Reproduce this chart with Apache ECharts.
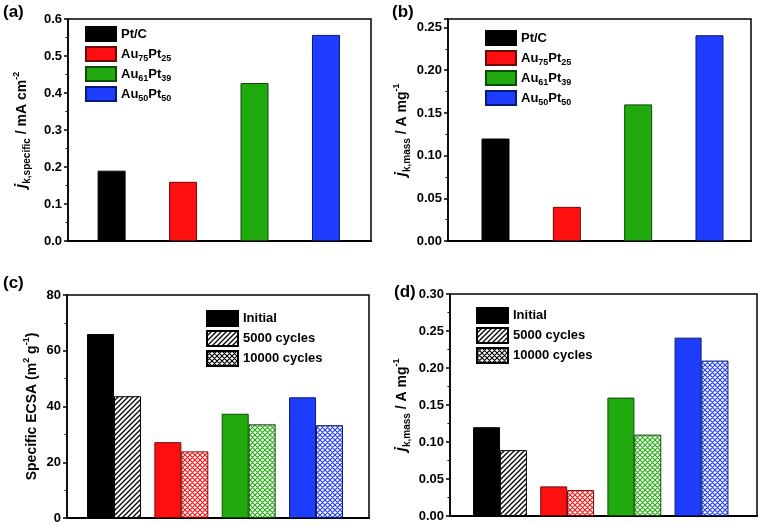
<!DOCTYPE html>
<html><head><meta charset="utf-8">
<script src="https://cdn.jsdelivr.net/npm/echarts@6/dist/echarts.min.js"></script>
<style>html,body{margin:0;padding:0;background:#fff}#c{width:760px;height:525px}</style>
</head><body><div id="c"></div>
<script>
// ---------- data ----------
const categories = ['Pt/C', 'Au75Pt25', 'Au61Pt39', 'Au50Pt50'];
const specificActivity = [0.19, 0.16, 0.427, 0.557];   // (a) mA cm-2
const massActivity = [0.12, 0.04, 0.16, 0.241];         // (b) A mg-1
const ecsaInitial = [66.0, 27.2, 37.4, 43.3];           // (c) m2 g-1
const ecsaCycled = [43.7, 23.9, 33.6, 33.3];
const massInitial = [0.12, 0.04, 0.16, 0.241];          // (d) A mg-1
const massCycled = [0.089, 0.035, 0.11, 0.21];
const cycledState = ['5000 cycles', '10000 cycles', '10000 cycles', '10000 cycles'];
const stateNames = ['Initial', '5000 cycles', '10000 cycles'];

// ---------- styles ----------
const FONT = 'Liberation Sans';
const fills = ['#000000', '#ff1010', '#20aa0e', '#1f3dff'];
const edges = ['#000000', '#6a0a0a', '#0f4a08', '#0a1a70'];

function pattern(color, cross) {
  const s = 5;
  const c = document.createElement('canvas');
  c.width = s; c.height = s;
  const g = c.getContext('2d');
  g.fillStyle = '#fff'; g.fillRect(0, 0, s, s);
  g.strokeStyle = color; g.lineWidth = cross ? 1.1 : 1.3;
  g.beginPath();
  g.moveTo(-1, s + 1); g.lineTo(s + 1, -1);
  g.moveTo(-1, 1); g.lineTo(1, -1);
  g.moveTo(s - 1, s + 1); g.lineTo(s + 1, s - 1);
  if (cross) {
    g.moveTo(-1, -1); g.lineTo(s + 1, s + 1);
    g.moveTo(s - 1, -1); g.lineTo(s + 1, 1);
    g.moveTo(-1, s - 1); g.lineTo(1, s + 1);
  }
  g.stroke();
  return { image: c, repeat: 'repeat' };
}
function stateFill(state, color) {
  if (state === 'Initial') return color;
  return pattern(color, state === '10000 cycles');
}

const grids = [
  { left: 68, top: 19, width: 303, height: 222 },
  { left: 448, top: 19, width: 303, height: 222 },
  { left: 67, top: 295, width: 302, height: 223 },
  { left: 450, top: 294, width: 307, height: 222 }
].map(g => Object.assign({ show: true, borderColor: '#000', borderWidth: 1.5, backgroundColor: 'transparent' }, g));
grids.push({ left: 0, top: 0, width: 1, height: 1, show: false });

const xRanges = [[0.39, 4.63], [0.334, 4.582], [0.302, 4.787], [0.256, 4.826]];
const xAxes = xRanges.map((r, i) => ({
  type: 'value', gridIndex: i, min: r[0], max: r[1],
  axisLine: { show: true, onZero: false, lineStyle: { color: '#000', width: 2 } },
  axisTick: { show: false }, axisLabel: { show: false }, splitLine: { show: false }
}));
xAxes.push({ type: 'category', gridIndex: 4, data: [], show: false });

const nameRich = {
  j: { fontFamily: FONT, fontSize: 16, fontWeight: 'bold', fontStyle: 'italic', lineHeight: 20 },
  s: { fontFamily: FONT, fontSize: 10, fontWeight: 'bold', verticalAlign: 'bottom', lineHeight: 10 },
  m: { fontFamily: FONT, fontSize: 14, fontWeight: 'bold', lineHeight: 20 },
  p: { fontFamily: FONT, fontSize: 9, fontWeight: 'bold', verticalAlign: 'top', lineHeight: 9 }
};
function yAxis(gi, max, interval, dec, name, gap) {
  return {
    type: 'value', gridIndex: gi, min: 0, max: max, interval: interval,
    axisLine: { show: true, lineStyle: { color: '#000', width: 1.5 } },
    axisTick: { show: true, inside: false, length: 4, lineStyle: { color: '#000', width: 1.5 } },
    minorTick: { show: true, splitNumber: 2, length: 2.5, lineStyle: { color: '#000', width: 1 } },
    splitLine: { show: false },
    axisLabel: { color: '#000', fontFamily: FONT, fontWeight: 'bold', fontSize: 13, margin: 6,
      showMaxLabel: max * 1e4 % (interval * 1e4) < 1e-6,
      formatter: v => v.toFixed(dec) },
    name: name, nameLocation: 'middle', nameRotate: 90, nameGap: gap,
    nameTextStyle: { color: '#000', fontFamily: FONT, fontSize: 14, fontWeight: 'bold', rich: nameRich }
  };
}
const yAxes = [
  yAxis(0, 0.6, 0.1, 1, '{j|j}{s|k,specific}{m| / mA cm}{p|-2}', 36),
  yAxis(1, 0.26, 0.05, 2, '{j|j}{s|k,mass}{m| / A mg}{p|-1}', 36),
  yAxis(2, 80, 20, 0, '{m|Specific ECSA (m}{p|2}{m| g}{p|-1}{m|)}', 25),
  yAxis(3, 0.30, 0.05, 2, '{j|j}{s|k,mass}{m| / A mg}{p|-1}', 38)
];
yAxes.push({ type: 'value', gridIndex: 4, show: false });

const series = [];
// (a) and (b): one bar per catalyst
[specificActivity, massActivity].forEach((vals, gi) => {
  series.push({
    type: 'bar', xAxisIndex: gi, yAxisIndex: gi, barWidth: 28,
    data: vals.map((v, i) => ({ value: [i + 1, v],
      itemStyle: { color: fills[i], borderColor: edges[i], borderWidth: 1 } }))
  });
});
// (c) and (d): initial + cycled per catalyst
[[ecsaInitial, ecsaCycled], [massInitial, massCycled]].forEach((pair, k) => {
  const gi = k + 2;
  const data = [];
  categories.forEach((c, i) => {
    data.push({ value: [i + 1 - 0.2, pair[0][i]],
      itemStyle: { color: fills[i], borderColor: edges[i], borderWidth: 1 } });
    data.push({ value: [i + 1 + 0.2, pair[1][i]],
      itemStyle: { color: stateFill(cycledState[i], fills[i]), borderColor: edges[i], borderWidth: 1 } });
  });
  series.push({ type: 'bar', xAxisIndex: gi, yAxisIndex: gi, barWidth: 27, data: data });
});
// legend entries (empty series on hidden grid)
categories.forEach((c, i) => series.push({ type: 'bar', name: c, xAxisIndex: 4, yAxisIndex: 4, data: [],
  itemStyle: { color: fills[i], borderColor: edges[i], borderWidth: 1 } }));
stateNames.forEach(s => series.push({ type: 'bar', name: s, xAxisIndex: 4, yAxisIndex: 4, data: [],
  itemStyle: { color: stateFill(s, '#000'), borderColor: '#000', borderWidth: 1 } }));

const legendRich = {
  s: { fontFamily: FONT, fontSize: 9, fontWeight: 'bold', color: '#000', verticalAlign: 'bottom', lineHeight: 9 }
};
function catLegend(left, top) {
  return {
    data: categories, orient: 'vertical', left: left, top: top, padding: 0, icon: 'rect',
    itemWidth: 30, itemHeight: 14, itemGap: 2, selectedMode: false,
    formatter: n => n.replace(/(\d+)/g, '{s|$1}'),
    textStyle: { color: '#000', fontFamily: FONT, fontSize: 13, fontWeight: 'bold', lineHeight: 18, rich: legendRich }
  };
}
function stateLegend(left, top) {
  return {
    data: stateNames, orient: 'vertical', left: left, top: top, padding: 0, icon: 'rect',
    itemWidth: 31, itemHeight: 15, itemGap: 3, selectedMode: false,
    textStyle: { color: '#000', fontFamily: FONT, fontSize: 13, fontWeight: 'bold', lineHeight: 15 }
  };
}

const titleStyle = { color: '#000', fontFamily: FONT, fontSize: 17, fontWeight: 'bold' };
const option = {
  animation: false,
  backgroundColor: '#fff',
  title: [
    { text: '(a)', left: 3, top: 4, padding: 0, textStyle: titleStyle },
    { text: '(b)', left: 392, top: 4, padding: 0, textStyle: titleStyle },
    { text: '(c)', left: 3, top: 275, padding: 0, textStyle: titleStyle },
    { text: '(d)', left: 394, top: 284, padding: 0, textStyle: titleStyle }
  ],
  legend: [catLegend(85, 25), catLegend(485, 29), stateLegend(206, 310), stateLegend(476, 307)],
  grid: grids, xAxis: xAxes, yAxis: yAxes, series: series
};
const chart = echarts.init(document.getElementById('c'), null, { renderer: 'canvas' });
chart.setOption(option);
</script>
</body></html>
